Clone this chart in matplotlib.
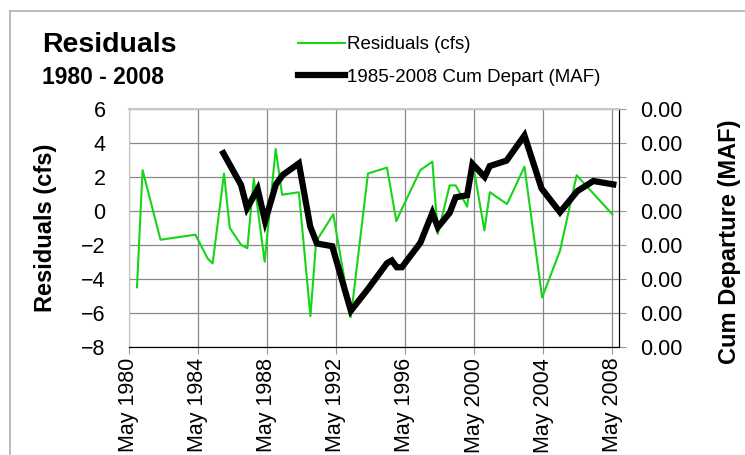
import numpy as np
import pandas as pd
import matplotlib
matplotlib.use("Agg")
import matplotlib.pyplot as plt
import matplotlib.dates as mdates
from matplotlib.lines import Line2D
from matplotlib.ticker import FormatStrFormatter

plt.rcParams['font.family'] = ['Liberation Sans', 'DejaVu Sans']

# residuals (cfs)
resid_dates = ["1980-11-10", "1981-03-08", "1982-03-22", "1984-03-28", "1984-12-12",
               "1985-03-28", "1985-11-24", "1986-03-25", "1986-11-20", "1987-04-01",
               "1987-08-15", "1988-04-01", "1988-11-20", "1989-04-05", "1990-03-25",
               "1990-11-24", "1991-03-25", "1992-03-22", "1993-03-28", "1994-03-25",
               "1995-05-01", "1995-11-15", "1996-02-28", "1997-04-05", "1997-12-15",
               "1998-04-10", "1998-12-15", "1999-04-22", "1999-12-20", "2000-04-12",
               "2000-12-20", "2001-04-12", "2002-04-12", "2003-04-15", "2004-04-22",
               "2005-05-05", "2006-04-22", "2008-05-15"]
resid_vals = [-4.5, 2.4, -1.7, -1.4, -2.8, -3.1, 2.2, -1.0, -2.0, -2.2,
              1.9, -3.0, 3.65, 0.95, 1.1, -6.2, -1.8, -0.2, -6.25, 2.2,
              2.55, -0.6, 0.05, 2.4, 2.9, -1.35, 1.5, 1.5, 0.25, 2.9,
              -1.15, 1.1, 0.4, 2.6, -5.1, -2.35, 2.1, -0.2]

# 1985-2008 cumulative departure (MAF)
cum_dates = ["1985-11-10", "1986-11-20", "1987-03-25", "1987-11-05", "1988-04-10",
             "1988-11-25", "1989-04-20", "1990-03-25", "1990-11-20", "1991-04-10",
             "1992-02-28", "1993-03-28", "1994-03-25", "1995-05-01", "1995-08-10",
             "1995-11-25", "1996-03-10", "1997-04-05", "1997-12-15", "1998-04-10",
             "1998-12-15", "1999-04-22", "1999-12-20", "2000-04-12", "2000-12-25",
             "2001-04-12", "2002-04-01", "2003-04-15", "2004-04-10", "2005-05-05",
             "2006-05-05", "2007-04-10", "2008-06-05"]
cum_vals = [0.00285, 0.00238, 0.00204, 0.00232, 0.00185, 0.00239, 0.00253, 0.00270,
            0.00177, 0.00152, 0.00148, 0.00053, 0.00085, 0.00123, 0.00127, 0.00117,
            0.00117, 0.00153, 0.00197, 0.00176, 0.00197, 0.00220, 0.00223, 0.00269,
            0.00250, 0.00266, 0.00274, 0.00311, 0.00233, 0.00198, 0.00229, 0.00244,
            0.00239]

tick_years = [1980, 1984, 1988, 1992, 1996, 2000, 2004, 2008]

rd = pd.to_datetime(resid_dates)
cd = pd.to_datetime(cum_dates)
xticks = [pd.Timestamp(f"{y}-05-15") for y in tick_years]

fig = plt.figure(figsize=(7.45, 4.55), dpi=100)
ax = fig.add_axes([0.1725, 0.238, 0.6588, 0.5224])
ax2 = ax.twinx()

green = '#16d416'
ax.plot(rd, resid_vals, color=green, lw=1.5, label='Residuals (cfs)')
ax2.plot(cd, cum_vals, color='black', lw=4.5, solid_joinstyle='miter',
         label='1985-2008 Cum Depart (MAF)')

ax.set_ylim(-8, 6)
ax.set_yticks(np.arange(-8, 7, 2))
ax.set_xlim(pd.Timestamp("1980-05-15"), pd.Timestamp("2008-10-10"))
ax.set_xticks(xticks)
ax.xaxis.set_major_formatter(mdates.DateFormatter('%b %Y'))
ax.grid(True, color='#888888', lw=0.9)
ax.set_axisbelow(True)

ax2.set_ylim(0, 0.0035)
ax2.set_yticks(np.arange(0, 0.00351, 0.0005))
ax2.yaxis.set_major_formatter(FormatStrFormatter('%.2f'))

for s in ['top', 'left']:
    ax.spines[s].set_color('#c8c8c8')
    ax2.spines[s].set_color('#c8c8c8')
ax2.spines['top'].set_linewidth(1.5)
ax2.spines['right'].set_color('black')
ax2.spines['bottom'].set_color('black')

ax.tick_params(axis='y', length=0, pad=16.5, labelsize=15.5)
ax.tick_params(axis='x', length=5, color='#999999', pad=3, labelsize=15.5,
               labelrotation=90)
ax2.tick_params(axis='y', length=5, color='#999999', pad=10, labelsize=15.5)

ax.set_ylabel('Residuals (cfs)', fontsize=17, fontweight='bold', labelpad=17)
ax2.set_ylabel('Cum Departure (MAF)', fontsize=17, fontweight='bold')
ax2.yaxis.set_label_coords(1.201, 0.44)

fig.text(0.056, 0.90, 'Residuals', fontsize=20.5, fontweight='bold', va='center')
fig.text(0.056, 0.83, '1980 - 2008', fontsize=16.5, fontweight='bold', va='center')

h1, l1 = ax.get_legend_handles_labels()
h2, l2 = ax2.get_legend_handles_labels()
fig.legend(h1 + h2, l1 + l2, loc='center left', bbox_to_anchor=(0.39, 0.866),
           frameon=False, fontsize=13.5, handlelength=2.5, handletextpad=0.1,
           labelspacing=0.82, borderaxespad=0)

# outer chart border (top and left edges)
fig.add_artist(Line2D([0.0134, 1.0], [0.976, 0.976], color='#b0b0b0', lw=1.2,
                      transform=fig.transFigure))
fig.add_artist(Line2D([0.0134, 0.0134], [0.0, 0.976], color='#b0b0b0', lw=1.2,
                      transform=fig.transFigure))

fig.savefig('out.png', dpi=100)
